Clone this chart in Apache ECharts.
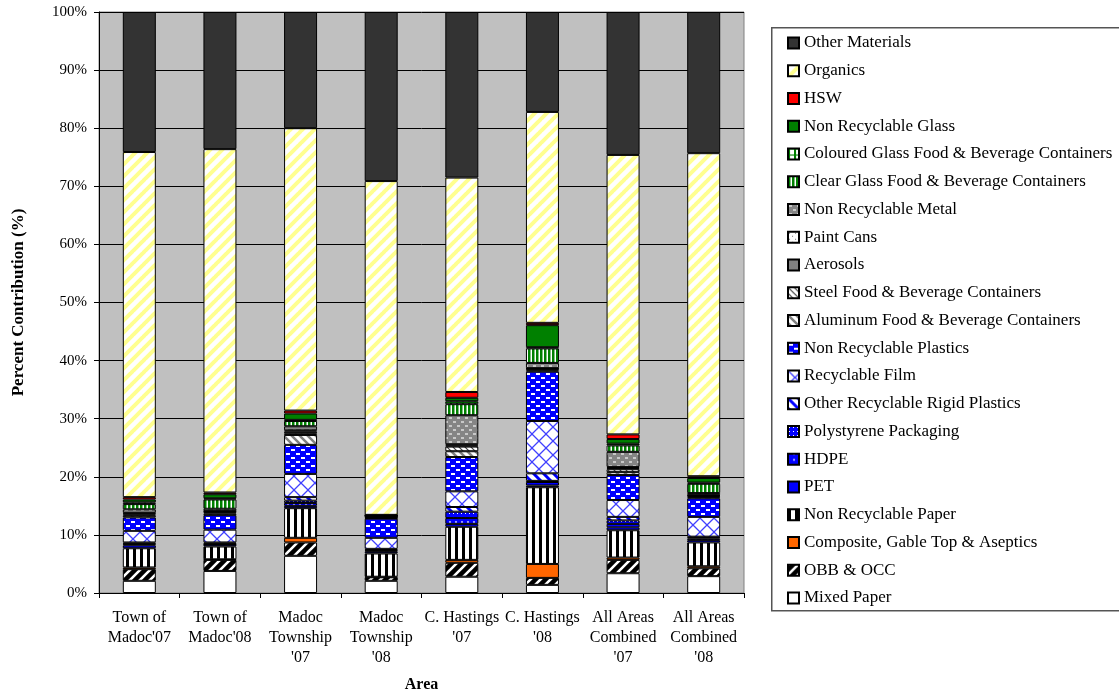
<!DOCTYPE html>
<html>
<head>
<meta charset="utf-8">
<script src="https://cdn.jsdelivr.net/npm/echarts@6/dist/echarts.min.js"></script>
<style>
html,body{margin:0;padding:0;background:#fff;}
#chart{width:1119px;height:696px;}
</style>
</head>
<body>
<div id="chart"></div>
<script>
const categories = ["Town of\nMadoc'07", "Town of\nMadoc'08", "Madoc\nTownship\n'07", "Madoc\nTownship\n'08", "C. Hastings\n'07", "C. Hastings\n'08", "All Areas\nCombined\n'07", "All Areas\nCombined\n'08"];

// Stack order: bottom to top
const mixedPaper     = [2.1, 3.8, 6.4, 2.1, 2.8, 1.4, 3.4, 2.9];
const obbOcc         = [2.0, 1.9, 2.3, 0.6, 2.4, 1.2, 2.3, 1.35];
const composite      = [0.3, 0.1, 0.8, 0.1, 0.5, 2.4, 0.4, 0.35];
const nrPaper        = [3.3, 2.2, 5.1, 4.0, 5.7, 13.2, 4.7, 4.1];
const pet            = [0.5, 0.3, 0.4, 0.3, 0.5, 0.3, 0.5, 0.4];
const hdpe           = [0.2, 0.1, 0.5, 0.2, 1.0, 0.6, 0.6, 0.3];
const polystyrene    = [0.1, 0.1, 0.4, 0.1, 1.1, 0.2, 0.6, 0.2];
const otherRigid     = [0.2, 0.2, 0.6, 0.2, 0.8, 1.3, 0.6, 0.1];
const recFilm        = [2.0, 2.2, 4.0, 1.9, 2.7, 9.0, 2.9, 3.4];
const nrPlastics     = [2.3, 2.5, 5.0, 3.3, 5.9, 8.5, 4.3, 3.2];
const aluminum       = [0.3, 0.3, 1.7, 0.1, 1.0, 0.2, 0.5, 0.2];
const steel          = [0.2, 0.2, 0.3, 0.1, 0.8, 0.2, 0.5, 0.2];
const aerosols       = [0.2, 0.1, 0.3, 0.1, 0.2, 0.1, 0.2, 0.1];
const paintCans      = [0.1, 0.1, 0.2, 0.05, 0.2, 0.1, 0.2, 0.1];
const nrMetal        = [0.6, 0.4, 0.7, 0.1, 5.0, 0.9, 2.6, 0.3];
const clearGlass     = [0.9, 1.6, 0.9, 0.05, 1.9, 2.5, 1.1, 1.6];
const colouredGlass  = [0.3, 0.2, 0.2, 0.05, 0.5, 0.2, 0.3, 0.2];
const nrGlass        = [0.5, 0.7, 1.1, 0.05, 0.6, 3.8, 0.8, 0.8];
const hsw            = [0.4, 0.3, 0.5, 0.05, 1.0, 0.4, 0.8, 0.3];
const organics       = [59.4, 59.1, 48.6, 57.45, 36.9, 36.3, 48.1, 55.6];
const otherMaterials = [24.1, 23.6, 20.0, 29.1, 28.5, 17.2, 24.6, 24.3];

const yTicks = [0, 10, 20, 30, 40, 50, 60, 70, 80, 90, 100];

// ---- pattern helpers ----
function pat(w, h, draw) {
  const c = document.createElement('canvas');
  c.width = w; c.height = h;
  const g = c.getContext('2d');
  draw(g, w, h);
  return { image: c, repeat: 'repeat' };
}
function diag(g, s, color, lw, dir) {
  g.strokeStyle = color; g.lineWidth = lw; g.beginPath();
  for (const k of [-s, 0, s]) {
    if (dir === '/') { g.moveTo(k - 1, s + 1); g.lineTo(k + s + 1, -1); }
    else { g.moveTo(k - 1, -1); g.lineTo(k + s + 1, s + 1); }
  }
  g.stroke();
}
const fills = {
  mixed: '#FFFFFF',
  obb: pat(10, 10, (g, w, h) => { g.fillStyle = '#000'; g.fillRect(0, 0, w, h); diag(g, 10, '#fff', 2.6, '/'); }),
  composite: '#FF6600',
  nrPaper: pat(7, 4, (g, w, h) => { g.fillStyle = '#fff'; g.fillRect(0, 0, w, h); g.fillStyle = '#000'; g.fillRect(0, 0, 3, h); }),
  pet: '#0000FF',
  hdpe: pat(6, 6, (g, w, h) => { g.fillStyle = '#fff'; g.fillRect(0, 0, w, h); g.fillStyle = '#0000FF'; g.beginPath(); g.arc(3, 3, 3.3, 0, Math.PI * 2); g.fill(); }),
  poly: pat(4, 4, (g, w, h) => { g.fillStyle = '#0000FF'; g.fillRect(0, 0, w, h); g.fillStyle = '#fff'; g.fillRect(1, 1, 1, 1); }),
  otherRigid: pat(10, 10, (g, w, h) => { g.fillStyle = '#fff'; g.fillRect(0, 0, w, h); diag(g, 10, '#0000FF', 3, '\\'); }),
  film: pat(14, 14, (g, w, h) => { g.fillStyle = '#fff'; g.fillRect(0, 0, w, h); diag(g, 14, '#4040FF', 1.3, '/'); diag(g, 14, '#4040FF', 1.3, '\\'); }),
  nrPlastics: pat(10, 8, (g, w, h) => { g.fillStyle = '#0000FF'; g.fillRect(0, 0, w, h); g.fillStyle = '#fff'; g.fillRect(1, 1, 4, 2); g.fillRect(6, 5, 4, 2); }),
  aluminum: pat(8, 8, (g, w, h) => { g.fillStyle = '#fff'; g.fillRect(0, 0, w, h); diag(g, 8, '#808080', 2.5, '\\'); }),
  steel: pat(6, 6, (g, w, h) => { g.fillStyle = '#fff'; g.fillRect(0, 0, w, h); diag(g, 6, '#404040', 1.2, '\\'); }),
  aerosols: '#808080',
  paint: pat(6, 6, (g, w, h) => { g.fillStyle = '#fff'; g.fillRect(0, 0, w, h); g.fillStyle = '#808080'; g.fillRect(1, 1, 1, 1); g.fillRect(4, 4, 1, 1); }),
  nrMetal: pat(8, 8, (g, w, h) => { g.fillStyle = '#858585'; g.fillRect(0, 0, w, h); g.fillStyle = '#C8C8C8'; g.fillRect(1, 1, 3, 2); g.fillRect(5, 5, 3, 2); }),
  clearGlass: pat(4, 4, (g, w, h) => { g.fillStyle = '#fff'; g.fillRect(0, 0, w, h); g.fillStyle = '#008000'; g.fillRect(0, 0, 2.5, h); }),
  colouredGlass: pat(6, 6, (g, w, h) => { g.fillStyle = '#fff'; g.fillRect(0, 0, w, h); g.fillStyle = '#008000'; g.fillRect(0, 0, 2, h); g.fillRect(0, 0, w, 1); }),
  nrGlass: '#008000',
  hsw: '#FF0000',
  organics: pat(12, 12, (g, w, h) => { g.fillStyle = '#fff'; g.fillRect(0, 0, w, h); diag(g, 12, '#FFFF90', 4, '/'); }),
  other: '#333333'
};

const seriesDefs = [
  ['Mixed Paper', mixedPaper, fills.mixed],
  ['OBB & OCC', obbOcc, fills.obb],
  ['Composite, Gable Top & Aseptics', composite, fills.composite],
  ['Non Recyclable Paper', nrPaper, fills.nrPaper],
  ['PET', pet, fills.pet],
  ['HDPE', hdpe, fills.hdpe],
  ['Polystyrene Packaging', polystyrene, fills.poly],
  ['Other Recyclable Rigid Plastics', otherRigid, fills.otherRigid],
  ['Recyclable Film', recFilm, fills.film],
  ['Non Recyclable Plastics', nrPlastics, fills.nrPlastics],
  ['Aluminum Food & Beverage Containers', aluminum, fills.aluminum],
  ['Steel Food & Beverage Containers', steel, fills.steel],
  ['Aerosols', aerosols, fills.aerosols],
  ['Paint Cans', paintCans, fills.paint],
  ['Non Recyclable Metal', nrMetal, fills.nrMetal],
  ['Clear Glass Food & Beverage Containers', clearGlass, fills.clearGlass],
  ['Coloured Glass Food & Beverage Containers', colouredGlass, fills.colouredGlass],
  ['Non Recyclable Glass', nrGlass, fills.nrGlass],
  ['HSW', hsw, fills.hsw],
  ['Organics', organics, fills.organics],
  ['Other Materials', otherMaterials, fills.other]
];

const FONT = 'Liberation Serif';
const chart = echarts.init(document.getElementById('chart'), null, { renderer: 'canvas' });

const option = {
  animation: false,
  textStyle: { fontFamily: FONT, color: '#000' },
  graphic: [{
    type: 'rect', left: 771, top: 27, z: -1,
    shape: { width: 360, height: 583 },
    style: { fill: '#fff', stroke: '#555', lineWidth: 1.5 }
  }],
  legend: {
    orient: 'vertical',
    left: 787, top: 33,
    padding: 0,
    itemWidth: 11, itemHeight: 11,
    itemGap: 7.75,
    icon: 'rect',
    selectedMode: false,
    data: seriesDefs.map(d => d[0]).reverse(),
    textStyle: { fontFamily: FONT, fontSize: 17, lineHeight: 20, color: '#000' }
  },
  grid: {
    left: 99, right: 375, top: 12, bottom: 103,
    outerBoundsMode: 'none',
    containLabel: false,
    show: true, backgroundColor: '#C0C0C0', borderColor: '#808080', borderWidth: 1
  },
  xAxis: {
    type: 'category',
    data: categories,
    name: 'Area',
    nameLocation: 'middle',
    nameGap: 84,
    nameTextStyle: { fontFamily: FONT, fontSize: 16, fontWeight: 'bold', color: '#000' },
    axisLine: { lineStyle: { color: '#000', width: 1 } },
    axisTick: { show: true, length: 5, lineStyle: { color: '#000' } },
    axisLabel: { interval: 0, fontFamily: FONT, fontSize: 16, lineHeight: 20, margin: 15, color: '#000' }
  },
  yAxis: {
    type: 'value',
    min: yTicks[0], max: yTicks[yTicks.length - 1], interval: 10,
    name: 'Percent Contribution (%)',
    nameLocation: 'middle',
    nameGap: 72,
    nameTextStyle: { fontFamily: FONT, fontSize: 17, fontWeight: 'bold', color: '#000' },
    axisLine: { show: true, lineStyle: { color: '#000', width: 1 } },
    axisTick: { show: true, length: 5, lineStyle: { color: '#000' } },
    axisLabel: { formatter: '{value}%', fontFamily: FONT, fontSize: 15, margin: 12, color: '#000' },
    splitLine: { show: true, lineStyle: { color: '#000', width: 1 } }
  },
  series: seriesDefs.map(d => ({
    name: d[0],
    type: 'bar',
    stack: 'total',
    barWidth: 33,
    data: d[1],
    itemStyle: { color: d[2], borderColor: '#000', borderWidth: 1 },
    emphasis: { disabled: true }
  }))
};
chart.setOption(option);
</script>
</body>
</html>
